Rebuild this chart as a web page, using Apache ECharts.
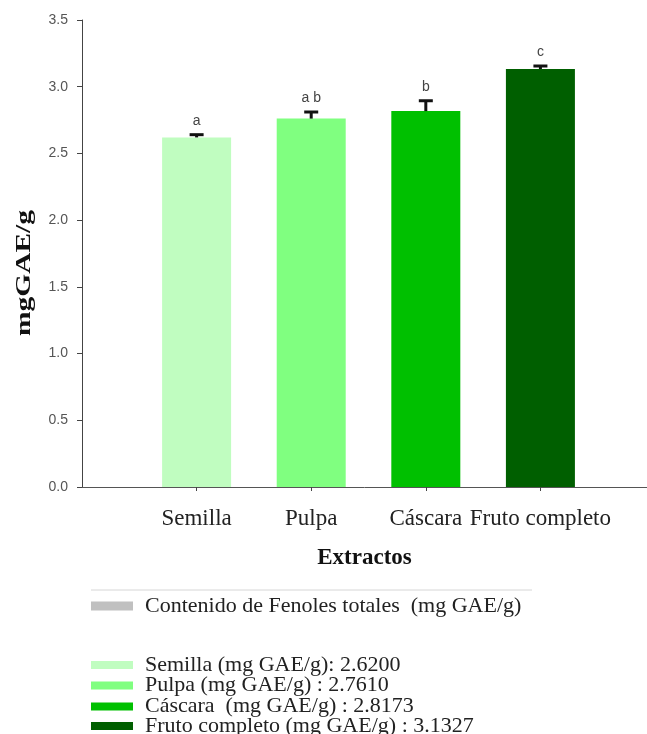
<!DOCTYPE html>
<html>
<head>
<meta charset="utf-8">
<script src="https://cdn.jsdelivr.net/npm/echarts@6/dist/echarts.min.js"></script>
<style>html,body{margin:0;padding:0;background:#fff;}#c{width:647px;height:734px;}</style>
</head>
<body>
<div id="c"></div>
<script>
const categories = ['Semilla', 'Pulpa', 'Cáscara', 'Fruto completo'];
const values = [2.6200, 2.7610, 2.8173, 3.1327];
const errors = [0.028, 0.057, 0.085, 0.030];
const letters = ['a', 'a b', 'b', 'c'];
const barColors = ['#c0fdc0', '#80ff80', '#00c000', '#005f00'];
const legendLabels = [
  'Semilla (mg GAE/g): 2.6200',
  'Pulpa (mg GAE/g) : 2.7610',
  'Cáscara  (mg GAE/g) : 2.8173',
  'Fruto completo (mg GAE/g) : 3.1327'
];
const totalLabel = 'Contenido de Fenoles totales  (mg GAE/g)';
const yMin = 0, yMax = 3.5, yStep = 0.5;
const xMin = 0, xMax = 4.93;
const xTitle = 'Extractos';
const yTitle = 'mgGAE/g';

const chart = echarts.init(document.getElementById('c'));
const serif = '"Liberation Serif", "Times New Roman", serif';
const sans = '"Liberation Sans", Arial, sans-serif';
const positions = categories.map((c, i) => i + 1);

const barSeries = categories.map((c, i) => ({
  name: c,
  type: 'bar',
  data: [[positions[i], values[i]]],
  barWidth: 69,
  barGap: '-100%',
  itemStyle: { color: barColors[i] },
  z: 2
}));

const errData = categories.map((c, i) => [positions[i], values[i], errors[i], letters[i]]);

const legendText = { fontFamily: serif, fontSize: 22, color: '#222', padding: [0, 0, 0, 7] };
const legendTops = [654, 674.5, 695.5, 715];
const categoryLegends = categories.map((c, i) => ({
  data: [c],
  left: 91, top: legendTops[i],
  padding: 0,
  itemWidth: 42, itemHeight: 8,
  icon: 'rect',
  formatter: name => legendLabels[categories.indexOf(name)],
  textStyle: legendText,
  selectedMode: false
}));

const option = {
  backgroundColor: '#fff',
  animation: false,
  grid: { left: 82, right: 0, top: 20, bottom: 247 },
  xAxis: {
    type: 'value',
    min: xMin, max: xMax,
    splitLine: { show: false },
    axisLine: { lineStyle: { color: '#555', width: 1 } },
    axisTick: { show: true, length: 4, customValues: positions, lineStyle: { color: '#444' } },
    axisLabel: {
      customValues: positions,
      formatter: v => { const k = positions.indexOf(v); return k >= 0 ? categories[k] : ''; },
      margin: 20,
      fontFamily: serif, fontSize: 23, color: '#222'
    },
    name: xTitle,
    nameLocation: 'middle',
    nameGap: 60,
    nameTextStyle: { fontFamily: serif, fontSize: 23, fontWeight: 'bold', color: '#111' }
  },
  yAxis: {
    type: 'value',
    min: yMin, max: yMax, interval: yStep,
    splitLine: { show: false },
    axisLine: { show: true, lineStyle: { color: '#444', width: 1 } },
    axisTick: { show: true, length: 5, lineStyle: { color: '#444' } },
    axisLabel: {
      formatter: v => v.toFixed(1),
      margin: 14,
      fontFamily: sans, fontSize: 14, color: '#555'
    }
  },
  legend: [
    {
      data: [totalLabel],
      left: 91, top: 595,
      padding: 0,
      itemWidth: 42, itemHeight: 9,
      icon: 'rect',
      textStyle: legendText,
      selectedMode: false
    },
    ...categoryLegends
  ],
  graphic: [
    {
      type: 'text',
      x: 25, y: 273,
      rotation: Math.PI / 2,
      scaleX: 1.4,
      style: {
        text: yTitle,
        font: 'bold 21px ' + serif,
        fill: '#111',
        textAlign: 'center',
        textVerticalAlign: 'middle'
      }
    },
    {
      type: 'line',
      shape: { x1: 91, y1: 590, x2: 532, y2: 590 },
      style: { stroke: '#d6d6d6', lineWidth: 1 }
    }
  ],
  series: [
    {
      name: totalLabel,
      type: 'bar',
      data: [],
      barWidth: 69,
      barGap: '-100%',
      itemStyle: { color: '#c0c0c0' }
    },
    ...barSeries,
    {
      type: 'custom',
      data: errData,
      z: 5,
      encode: { x: 0, y: 1 },
      renderItem: (params, api) => {
        const x = api.value(0), v = api.value(1), e = api.value(2);
        const letter = errData[params.dataIndex][3];
        const p0 = api.coord([x, v]);
        const p1 = api.coord([x, v + e]);
        return {
          type: 'group',
          children: [
            { type: 'line', shape: { x1: p0[0], y1: p0[1], x2: p1[0], y2: p1[1] + 1 }, style: { stroke: '#111', lineWidth: 3 } },
            { type: 'line', shape: { x1: p1[0] - 7, y1: p1[1] + 1, x2: p1[0] + 7, y2: p1[1] + 1 }, style: { stroke: '#111', lineWidth: 3 } },
            { type: 'text', x: p1[0], y: p1[1] - 6, style: { text: letter, font: '14px ' + sans, fill: '#444', textAlign: 'center', textVerticalAlign: 'bottom' } }
          ]
        };
      }
    }
  ]
};
chart.setOption(option);
</script>
</body>
</html>
